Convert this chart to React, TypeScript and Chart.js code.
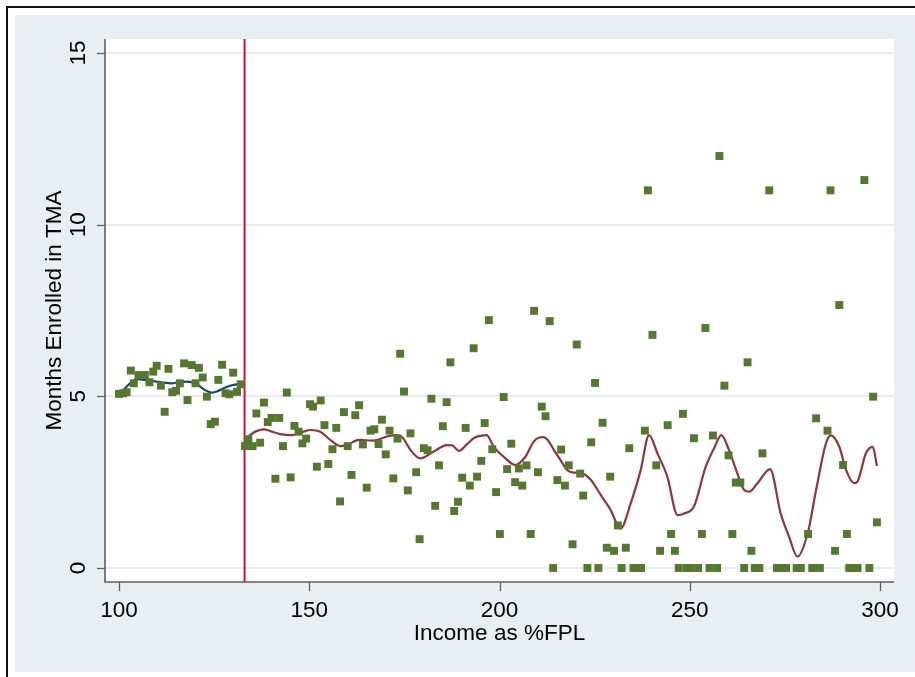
import React, { useEffect, useRef } from "react";
import { Chart, registerables } from "chart.js";

Chart.register(...registerables);

// ---- axis definitions ----
const xTickValues = [100, 150, 200, 250, 300];
const yTickValues = [0, 5, 10, 15];
const xTitle = "Income as %FPL";
const yTitle = "Months Enrolled in TMA";
const cutoffFPL = 133;

// ---- scatter: binned means ----
const pointFPL = [
  100.0, 101.1, 102.0, 103.1, 103.9, 105.1, 106.8, 108.0, 109.0, 109.9, 111.0, 112.0, 113.0, 114.0, 115.0, 116.0,
  117.1, 118.0, 119.1, 120.1, 121.0, 122.0, 123.1, 124.1, 125.2, 126.1, 127.1, 128.0, 129.0, 130.0, 131.0, 132.0,
  133.1, 134.0, 135.1, 136.1, 137.1, 138.1, 139.1, 140.1, 141.1, 142.1, 143.1, 144.1, 145.1, 146.1, 147.2, 148.2,
  149.2, 150.2, 151.0, 152.0, 153.0, 154.0, 155.0, 156.1, 157.1, 158.1, 159.1, 160.1, 161.1, 162.1, 163.1, 164.1,
  165.1, 166.1, 167.1, 168.2, 169.1, 170.1, 171.1, 172.1, 173.2, 173.9, 174.9, 175.9, 176.6,
  178.1, 179.0, 180.1, 181.1, 182.1, 183.1, 184.1, 185.1, 186.1, 187.1, 188.1, 189.1, 190.2, 191.1, 192.2, 193.2,
  194.1, 195.2, 196.1, 197.2, 198.1, 199.1, 200.1, 201.1, 202.0, 203.1, 204.1, 205.1, 206.0, 207.1, 208.2, 209.1,
  210.1, 211.1, 212.1, 213.2, 214.1, 215.2, 216.2, 217.2, 218.2, 219.2, 220.3, 221.2, 222.0, 223.1, 224.1, 225.1,
  226.0, 227.1, 228.2, 229.1, 230.1, 231.1, 232.1, 233.2, 234.1, 235.2, 236.2, 237.2, 238.2, 239.0, 240.2, 241.2,
  242.2, 244.2, 245.1, 246.1, 247.1, 248.2, 249.2, 250.1, 251.1, 252.2, 253.2, 254.1, 255.2, 256.1, 257.2, 257.8,
  259.1, 260.2, 261.2, 262.1, 263.3, 264.3, 265.2, 266.2, 267.1, 268.3, 269.1, 270.9, 272.9, 274.1, 275.3, 278.1,
  279.2, 281.1, 282.2, 283.2, 284.2, 286.2, 287.0, 288.2, 289.3, 290.3, 291.3, 291.9, 293.1, 294.1, 295.9, 297.2,
  298.2, 299.2,
];
const pointMonths = [
  5.07, 5.09, 5.12, 5.75, 5.38, 5.62, 5.62, 5.41, 5.72, 5.89, 5.31, 4.55, 5.80, 5.12, 5.16, 5.38,
  5.96, 4.89, 5.91, 5.38, 5.83, 5.55, 4.99, 4.19, 4.26, 5.48, 5.92, 5.09, 5.06, 5.69, 5.13, 5.35,
  3.55, 3.75, 3.55, 4.50, 3.65, 4.82, 4.25, 4.37, 2.60, 4.37, 3.55, 5.11, 2.64, 4.14, 3.97, 3.63,
  3.77, 4.77, 4.70, 2.95, 4.88, 4.16, 3.03, 3.46, 4.08, 1.94, 4.54, 3.55, 2.71, 4.45, 4.74, 3.60,
  2.34, 4.00, 4.04, 3.61, 4.32, 3.31, 4.00, 2.61, 3.77, 6.24, 5.14, 2.26, 3.92,
  2.79, 0.84, 3.49, 3.43, 4.93, 1.81, 2.99, 4.13, 4.83, 5.99, 1.66, 1.93, 2.63, 4.08, 2.40, 6.40,
  2.66, 3.12, 4.22, 7.22, 3.46, 2.21, 0.99, 4.98, 2.88, 3.62, 2.50, 2.90, 2.40, 2.99, 0.99, 7.49,
  2.79, 4.70, 4.42, 7.19, 0.0, 2.56, 3.45, 2.40, 2.99, 0.69, 6.51, 2.75, 2.11, 0.0, 3.66, 5.39,
  0.0, 4.23, 0.59, 2.66, 0.50, 1.24, 0.0, 0.59, 3.49, 0.0, 0.0, 0.0, 4.00, 11.0, 6.79, 2.99,
  0.50, 4.16, 0.99, 0.50, 0.0, 4.49, 0.0, 0.0, 3.78, 0.0, 0.99, 6.99, 0.0, 3.86, 0.0, 12.0,
  5.31, 3.28, 0.99, 2.49, 2.49, 0.0, 5.99, 0.50, 0.0, 0.0, 3.34, 11.0, 0.0, 0.0, 0.0, 0.0,
  0.0, 0.99, 0.0, 4.36, 0.0, 4.00, 11.0, 0.50, 7.66, 3.00, 0.99, 0.0, 0.0, 0.0, 11.3, 0.0,
  4.99, 1.33,
];

// ---- lowess fit below the cutoff ----
const lowessLeftFPL = [
  100.1, 101.1, 102.9, 104.6, 106.4, 108.1, 109.9, 111.6, 113.9, 115.6, 117.8, 119.1, 120.8, 122.6, 124.4,
  125.7, 127.4, 129.2, 130.9, 131.8,
];
const lowessLeftMonths = [
  5.09, 5.18, 5.38, 5.50, 5.48, 5.46, 5.43, 5.40, 5.38, 5.41, 5.43, 5.41, 5.33, 5.18, 5.11,
  5.14, 5.23, 5.31, 5.35, 5.33,
];

// ---- lowess fit above the cutoff ----
const lowessRightFPL = [
  133.2, 134.0, 135.3, 136.5, 138.0, 140.0, 142.4, 145.4, 148.0, 150.3, 152.9, 155.5, 158.2, 159.9, 163.0,
  166.9, 170.4, 173.1, 174.5, 176.6, 179.2, 182.7, 186.2, 187.6, 189.3, 191.4, 193.2, 195.0, 196.6, 198.5,
  201.1, 204.2, 206.8, 209.0, 210.5, 211.5, 212.5, 214.3, 216.0, 217.8, 219.5, 221.3, 223.9, 226.6, 229.2,
  231.8, 234.5, 237.1, 239.3, 241.5, 244.1, 246.8, 248.5, 251.1, 254.2, 256.4, 258.3, 260.3, 262.5, 264.3,
  265.6, 267.8, 271.1, 273.9, 276.1, 278.3, 281.0, 283.2, 285.8, 287.1, 289.3, 291.1, 293.2, 294.1, 296.3,
  298.1, 299.2,
];
const lowessRightMonths = [
  3.68, 3.82, 3.94, 4.00, 4.04, 3.98, 3.90, 3.87, 3.95, 4.02, 3.97, 3.73, 3.55, 3.58, 3.73,
  3.71, 3.83, 3.87, 3.80, 3.44, 3.19, 3.39, 3.58, 3.57, 3.41, 3.60, 3.78, 3.85, 3.87, 3.53,
  3.24, 3.00, 3.24, 3.68, 3.80, 3.81, 3.75, 3.44, 3.15, 2.85, 2.78, 2.77, 2.58, 2.13, 1.69,
  1.15, 1.89, 2.85, 3.87, 3.34, 2.66, 1.54, 1.59, 1.79, 2.95, 3.49, 3.87, 3.44, 2.76, 2.27,
  2.22, 2.47, 2.88, 1.59, 0.91, 0.33, 1.01, 2.27, 3.63, 3.86, 3.53, 2.85, 2.47, 2.52, 3.34,
  3.53, 2.97,
];

const X_MIN = 96.32;
const X_MAX = 303.68;
const Y_MIN = -0.408;
const Y_MAX = 15.408;

const FONT = "22.5px 'Liberation Sans', Arial, sans-serif";
const AXIS_COLOR = "#5f5f5f";

const stataPlugin = {
  id: "stataFrame",
  beforeDraw(chart: any) {
    const { ctx, width, height, chartArea: a } = chart;
    ctx.save();
    ctx.fillStyle = "#ffffff";
    ctx.fillRect(0, 0, width, height);
    ctx.fillStyle = "#e8eff2";
    ctx.fillRect(15, 15, width - 15, 672 - 15);
    ctx.fillStyle = "#111111";
    ctx.fillRect(6, 6, width - 6, 2);
    ctx.fillRect(6, 6, 2, height - 6);
    ctx.fillStyle = "#ffffff";
    ctx.fillRect(a.left, a.top, a.right - a.left, a.bottom - a.top);
    ctx.restore();
  },
  afterDraw(chart: any) {
    const { ctx, chartArea: a, scales } = chart;
    const xs = scales.x;
    const ys = scales.y;
    ctx.save();
    ctx.strokeStyle = AXIS_COLOR;
    ctx.lineWidth = 1.6;
    ctx.beginPath();
    ctx.moveTo(a.left, a.top);
    ctx.lineTo(a.left, a.bottom);
    ctx.lineTo(a.right, a.bottom);
    ctx.stroke();

    ctx.lineWidth = 1.3;
    ctx.fillStyle = "#000000";
    ctx.font = FONT;
    // y ticks
    yTickValues.forEach((v) => {
      const py = Math.round(ys.getPixelForValue(v)) + 0.5;
      ctx.beginPath();
      ctx.moveTo(a.left - 8, py);
      ctx.lineTo(a.left, py);
      ctx.stroke();
      ctx.save();
      ctx.translate(85, ys.getPixelForValue(v));
      ctx.rotate(-Math.PI / 2);
      ctx.textAlign = "center";
      ctx.textBaseline = "alphabetic";
      ctx.fillText(String(v), 0, 0);
      ctx.restore();
    });
    // x ticks
    xTickValues.forEach((v) => {
      const px = Math.round(xs.getPixelForValue(v)) + 0.5;
      ctx.beginPath();
      ctx.moveTo(px, a.bottom);
      ctx.lineTo(px, a.bottom + 9);
      ctx.stroke();
      ctx.textAlign = "center";
      ctx.textBaseline = "alphabetic";
      ctx.fillText(String(v), xs.getPixelForValue(v), 617);
    });
    // titles
    ctx.textAlign = "center";
    ctx.textBaseline = "alphabetic";
    ctx.fillText(xTitle, (a.left + a.right) / 2, 640);
    ctx.save();
    ctx.translate(61, (a.top + a.bottom) / 2);
    ctx.rotate(-Math.PI / 2);
    ctx.fillText(yTitle, 0, 0);
    ctx.restore();
    ctx.restore();
  },
};

export default function App() {
  const canvasRef = useRef<HTMLCanvasElement | null>(null);

  useEffect(() => {
    document.body.style.margin = "0";
    const canvas = canvasRef.current;
    if (!canvas) return;

    const pts = pointFPL.map((x, i) => ({ x, y: pointMonths[i] }));
    const left = lowessLeftFPL.map((x, i) => ({ x, y: lowessLeftMonths[i] }));
    const right = lowessRightFPL.map((x, i) => ({ x, y: lowessRightMonths[i] }));

    const chart = new Chart(canvas, {
      type: "scatter",
      data: {
        datasets: [
          {
            type: "scatter",
            label: "binned",
            data: pts,
            pointStyle: "rect",
            pointRadius: 5.6,
            pointBackgroundColor: "#56782e",
            pointBorderWidth: 0,
            order: 0,
          } as any,
          {
            type: "line",
            label: "lowess below",
            data: left,
            borderColor: "#1a476f",
            borderWidth: 2.2,
            pointRadius: 0,
            fill: false,
            tension: 0.3,
            order: 1,
          } as any,
          {
            type: "line",
            label: "lowess above",
            data: right,
            borderColor: "#92343b",
            borderWidth: 2.2,
            pointRadius: 0,
            fill: false,
            tension: 0.3,
            cubicInterpolationMode: "monotone",
            order: 1,
          } as any,
          {
            type: "line",
            label: "cutoff",
            data: [
              { x: cutoffFPL, y: Y_MIN },
              { x: cutoffFPL, y: Y_MAX },
            ],
            borderColor: "#cc1136",
            borderWidth: 2,
            pointRadius: 0,
            fill: false,
            order: 2,
          } as any,
        ],
      },
      options: {
        animation: false,
        responsive: false,
        events: [],
        layout: { padding: { top: 39, right: 21, left: 0, bottom: 0 } },
        plugins: {
          legend: { display: false },
          tooltip: { enabled: false },
        },
        scales: {
          x: {
            type: "linear",
            min: X_MIN,
            max: X_MAX,
            ticks: { display: false },
            grid: { display: false, drawTicks: false },
            border: { display: false },
            afterBuildTicks: (s: any) => {
              s.ticks = xTickValues.map((v) => ({ value: v }));
            },
            afterFit: (s: any) => {
              s.height = 95;
            },
          },
          y: {
            type: "linear",
            min: Y_MIN,
            max: Y_MAX,
            ticks: { display: false },
            grid: { color: "#e6edf1", lineWidth: 2, drawTicks: false },
            border: { display: false },
            afterBuildTicks: (s: any) => {
              s.ticks = yTickValues.map((v) => ({ value: v }));
            },
            afterFit: (s: any) => {
              s.width = 105;
            },
          },
        },
      },
      plugins: [stataPlugin],
    });

    return () => chart.destroy();
  }, []);

  return (
    <div style={{ position: "absolute", left: 0, top: 0, width: 915, height: 677 }}>
      <canvas ref={canvasRef} width={915} height={677} style={{ display: "block" }} />
    </div>
  );
}
